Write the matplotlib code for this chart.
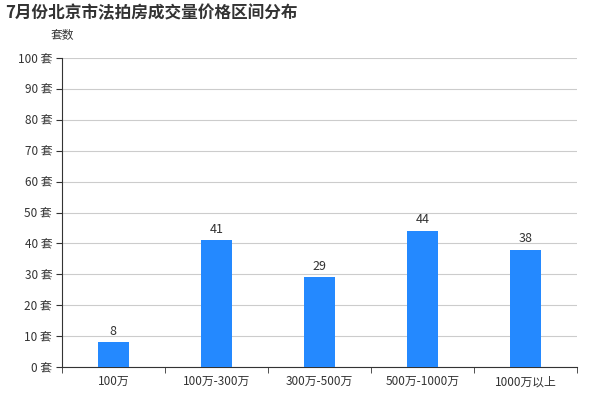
import matplotlib
matplotlib.use("Agg")
import matplotlib.pyplot as plt

plt.rcParams['font.family'] = ['Noto Sans CJK SC', 'DejaVu Sans']

categories = ["100万", "100万-300万", "300万-500万", "500万-1000万", "1000万以上"]
values = [8, 41, 29, 44, 38]
yticks = [0, 10, 20, 30, 40, 50, 60, 70, 80, 90, 100]

fig = plt.figure(figsize=(6, 4), dpi=100)
ax = fig.add_axes([0.103, 0.0825, 0.859, 0.7725])
x = range(len(categories))
ax.bar(x, values, width=0.3, color="#2489ff", zorder=3)
for xi, v in zip(x, values):
    ax.text(xi, v + 1.5, str(v), ha="center", va="bottom", fontsize=9, color="#333333")
ax.set_xlim(-0.5, len(categories) - 0.5)
ax.set_ylim(0, 100)
ax.set_yticks(yticks)
ax.set_yticklabels([f"{t} 套" for t in yticks], fontsize=8.5, color="#333333")
ax.set_xticks(list(x))
ax.set_xticklabels(categories, fontsize=8.5, color="#333333")
ax.set_xticks([i - 0.5 for i in range(len(categories) + 1)], minor=True)
ax.tick_params(axis="x", which="major", length=0, pad=6)
ax.tick_params(axis="x", which="minor", length=4, color="#333333")
ax.tick_params(axis="y", length=4, color="#333333", pad=3)
ax.grid(axis="y", color="#cccccc", linewidth=0.8, zorder=0)
for s in ["top", "right"]:
    ax.spines[s].set_visible(False)
ax.spines["left"].set_color("#333333")
ax.spines["bottom"].set_color("#333333")
fig.text(0.085, 0.895, "套数", fontsize=8.5, color="#333333", ha="left", va="bottom")
fig.text(0.008, 0.99, "7月份北京市法拍房成交量价格区间分布", fontsize=12, fontweight="bold", color="#333333", ha="left", va="top")
fig.savefig("out.png", dpi=100)
